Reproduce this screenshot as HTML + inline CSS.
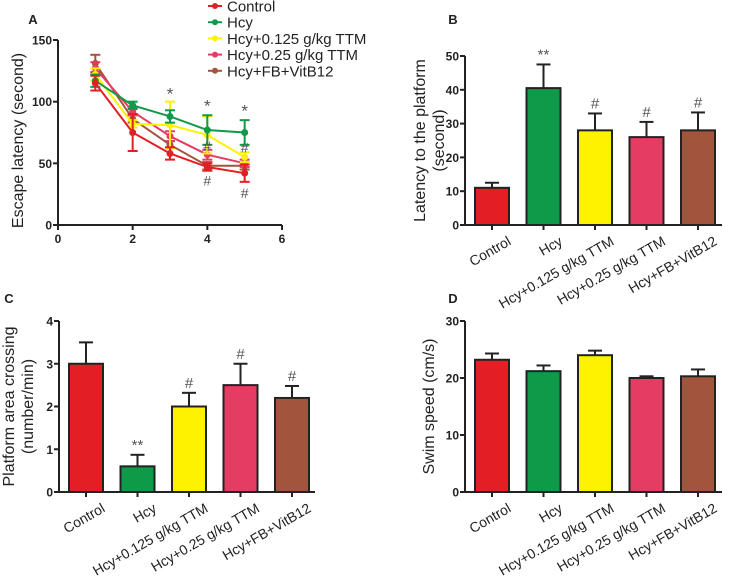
<!DOCTYPE html>
<html><head><meta charset="utf-8">
<style>
html,body{margin:0;padding:0;background:#fff;}
svg{display:block;font-family:"Liberation Sans",Arial,sans-serif;}
</style></head>
<body>
<svg id="fig" width="732" height="577" viewBox="0 0 732 577" xmlns="http://www.w3.org/2000/svg"></svg>
<script>
const groups = ["Control","Hcy","Hcy+0.125 g/kg TTM","Hcy+0.25 g/kg TTM","Hcy+FB+VitB12"];
const colors = ["#e31e24","#0f9a4a","#fff200","#e43c62","#a2553c"];
const days = [1,2,3,4,5];
const latControl = [115,75,58,47,42];
const latHcy = [117,97,88,77,75];
const latTTM125 = [122,82,81,73,55];
const latTTM25 = [127,92,72,57,50];
const latFB = [131,86,65,48,48];
const errControl = [6,15,5,3,7];
const errHcy = [5,3,5,12,10];
const errTTM125 = [5,3,19,15,4];
const errTTM25 = [5,3,4,4,3];
const errFB = [7,3,3,3,3];
const bValues = [11,40.5,28,26,28];
const bErr = [1.5,7,5,4.5,5.3];
const bMarks = ["","**","#","#","#"];
const cValues = [3,0.6,2,2.5,2.2];
const cErr = [0.5,0.27,0.32,0.5,0.28];
const cMarks = ["","**","#","#","#"];
const dValues = [23.2,21.2,24,20,20.3];
const dErr = [1.1,1,0.8,0.3,1.2];
const aTicksY = [0,50,100,150];
const aTicksX = [0,2,4,6];
const aMarkDay = [3,4,5,4,4,5,5];
const aMarkSym = ['*','*','*','#','#','#','#'];
const aMarkVal = [110,100,96,64,36,63,26];

const svg = document.getElementById('fig');
const NS = "http://www.w3.org/2000/svg";
function el(tag, attrs, parent, text){
  const e = document.createElementNS(NS, tag);
  for (const k in attrs) e.setAttribute(k, attrs[k]);
  if (text !== undefined) e.textContent = text;
  (parent||svg).appendChild(e);
  return e;
}
function txt(x,y,s,size,parent,anchor,weight,fill){
  return el('text',{x:x,y:y,'font-size':size,'text-anchor':anchor||'middle','font-weight':weight||'normal',fill:fill||'#222'},parent,s);
}

// ---------- Panel A ----------
const gA = el('g',{});


const ax0=58, ax1=282, ay0=225, ay1=40;
const xA = v => ax0 + (v-0)/6*(ax1-ax0);
const yA = v => ay0 - v/150*(ay0-ay1);
el('line',{x1:ax0,y1:ay0,x2:ax1,y2:ay0,stroke:'#222','stroke-width':2},gA);
el('line',{x1:ax0,y1:ay0,x2:ax0,y2:ay1,stroke:'#222','stroke-width':2},gA);
aTicksY.forEach(t=>{
  el('line',{x1:ax0-5,y1:yA(t),x2:ax0,y2:yA(t),stroke:'#222','stroke-width':2},gA);
  const tl=txt(ax0-6,yA(t)+4.5,String(t),12,gA,'end','bold');
  
  
});
aTicksX.forEach(t=>{
  el('line',{x1:xA(t),y1:ay0,x2:xA(t),y2:ay0+5,stroke:'#222','stroke-width':2},gA);
  const tl=txt(xA(t),ay0+18,String(t),12,gA,'middle','bold');
  
  
});
const ayt = txt(0,0,'Escape latency (second)',16,gA);
ayt.setAttribute('transform','translate(23,'+((ay0+ay1)/2+8)+') rotate(-90)');


const pl = txt(33,24,'A',13,gA,'middle','bold');



const series=[latControl,latHcy,latTTM125,latTTM25,latFB];
const errs=[errControl,errHcy,errTTM125,errTTM25,errFB];
const order=[4,3,2,1,0];
order.forEach(si=>{
  const vals=series[si], er=errs[si], c=colors[si];
  const g=el('g',{},gA);
  
  
  el('polyline',{points:days.map((d,i)=>xA(d)+','+yA(vals[i])).join(' '),fill:'none',stroke:c,'stroke-width':2},g);
  days.forEach((d,i)=>{
    const x=xA(d), y=yA(vals[i]);
    el('line',{x1:x,y1:yA(vals[i]-er[i]),x2:x,y2:yA(vals[i]+er[i]),stroke:c,'stroke-width':2},g);
    el('line',{x1:x-5,y1:yA(vals[i]+er[i]),x2:x+5,y2:yA(vals[i]+er[i]),stroke:c,'stroke-width':2},g);
    el('line',{x1:x-5,y1:yA(vals[i]-er[i]),x2:x+5,y2:yA(vals[i]-er[i]),stroke:c,'stroke-width':2},g);
    const p=el('circle',{cx:x,cy:y,r:3.5,fill:c},g);
    
    
  });
});
aMarkDay.forEach((d,i)=>{
  const s=aMarkSym[i];
  const t=txt(xA(d),yA(aMarkVal[i])+(s==='*'?10:5),s,s==='*'?17:14,gA,'middle','normal','#555');
  
  
});
// legend
const lg=el('g',{},gA);


groups.forEach((g,i)=>{
  const y=6+i*16.2;
  const e=el('g',{},lg);
  
  
  el('line',{x1:208,y1:y,x2:222,y2:y,stroke:colors[i],'stroke-width':2},e);
  el('circle',{cx:215,cy:y,r:3,fill:colors[i]},e);
  txt(227,y+5.5,g,15,e,'start');
});

// ---------- Bar panels ----------
function barPanel(name, cfg){
  const g=el('g',{});
  
  
  const {x0,x1,y0,y1,max,ticks,vals,errs,marks,label,lx,ly,titleLines,tx}=cfg;
  const yS=v=>y0-v/max*(y0-y1);
  const step=51.5, bw=34, first=x0+27;
  el('line',{x1:x0,y1:y0,x2:x1,y2:y0,stroke:'#222','stroke-width':2},g);
  el('line',{x1:x0,y1:y0,x2:x0,y2:y1,stroke:'#222','stroke-width':2},g);
  ticks.forEach(t=>{
    el('line',{x1:x0-5,y1:yS(t),x2:x0,y2:yS(t),stroke:'#222','stroke-width':2},g);
    const tl=txt(x0-6,yS(t)+4.5,String(t),12,g,'end','bold');
    
    
  });
  vals.forEach((v,i)=>{
    const cx=first+i*step;
    const top=yS(v), et=yS(v+errs[i]);
    el('line',{x1:cx,y1:top,x2:cx,y2:et,stroke:'#222','stroke-width':2},g);
    el('line',{x1:cx-7,y1:et,x2:cx+7,y2:et,stroke:'#222','stroke-width':2},g);
    const r=el('rect',{x:cx-bw/2,y:top,width:bw,height:y0-top,fill:colors[i],stroke:'#222','stroke-width':2},g);
    
    
    el('line',{x1:cx,y1:y0,x2:cx,y2:y0+5,stroke:'#222','stroke-width':2},g);
    if(marks && marks[i]){
      const m=txt(cx,et-5,marks[i],15,g,'middle','normal','#555');
      
      
    }
    const xl=txt(0,0,groups[i],14,g,'end');
    xl.setAttribute('transform','translate('+(cx+20)+','+(y0+19)+') rotate(-30)');
    
    
  });
  const tg=el('text',{'font-size':16,'text-anchor':'middle',fill:'#222',transform:'translate('+tx+','+((y0+y1)/2)+') rotate(-90)'},g);
  
  
  titleLines.forEach((l,k)=>{ el('tspan',{x:0,dy:k===0?0:19},tg,l); });
  const pl=txt(lx,ly,label,13,g,'middle','bold');
  
  
}
barPanel('panel-b-bar-chart',{x0:465,x1:722,y0:225,y1:56,max:50,ticks:[0,10,20,30,40,50],vals:bValues,errs:bErr,marks:bMarks,label:'B',lx:453,ly:24,titleLines:['Latency to the platform','(second)'],tx:425});
barPanel('panel-c-bar-chart',{x0:59,x1:315,y0:492,y1:321,max:4,ticks:[0,1,2,3,4],vals:cValues,errs:cErr,marks:cMarks,label:'C',lx:9,ly:303,titleLines:['Platform area crossing','(number/min)'],tx:14});
barPanel('panel-d-bar-chart',{x0:465,x1:722,y0:492,y1:321,max:30,ticks:[0,10,20,30],vals:dValues,errs:dErr,marks:null,label:'D',lx:453,ly:303,titleLines:['Swim speed (cm/s)'],tx:434});
</script>
</body></html>
